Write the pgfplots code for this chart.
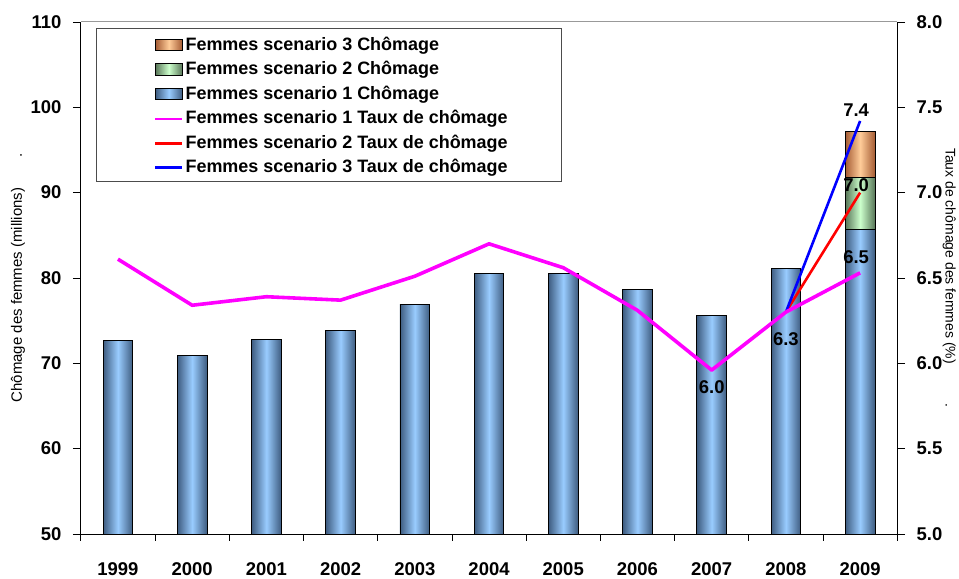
\documentclass[border=0pt]{standalone}
\usepackage{fontspec}
\setmainfont{Liberation Sans}
\usepackage{pgfplots}
\pgfplotsset{compat=1.18}
\definecolor{bluedark}{RGB}{62,92,128}
\definecolor{bluelight}{RGB}{153,204,255}
\definecolor{greendark}{RGB}{88,118,88}
\definecolor{greenlight}{RGB}{204,255,204}
\definecolor{orangedark}{RGB}{165,92,52}
\definecolor{orangelight}{RGB}{255,204,153}
\definecolor{mag}{RGB}{255,0,255}
\definecolor{rd}{RGB}{255,0,0}
\definecolor{bl}{RGB}{0,0,255}
\newcommand{\tickfont}{\bfseries\fontsize{18.5}{20}\selectfont}
\newcommand{\legfont}{\bfseries\fontsize{18}{22}\selectfont}
\begin{document}
\begin{tikzpicture}
\pgfplotsset{
  base/.style={
    width=818pt, height=513pt, scale only axis,
    xmin=-0.5, xmax=10.5,
    /pgf/number format/assume math mode=true,
    tick align=outside, major tick length=8pt,
    ticklabel style={font=\tickfont},
    tick style={black, line width=0.8pt},
    axis line style={line width=0.8pt},
  },
  barb/.style={ybar, bar width=0.4, bar shift=0pt, draw=black, line width=0.8pt,
    left color=bluedark, right color=bluedark, middle color=bluelight, forget plot},
}
\begin{axis}[base,
  ymin=50, ymax=110, ytick={50,60,...,110},
  axis x line*=bottom, axis y line*=left,
  xtick={0,...,10},
  xticklabels={1999,2000,2001,2002,2003,2004,2005,2006,2007,2008,2009},
  major x tick style={draw=none},
  minor xtick={-0.5,0.5,...,10.5},
  minor tick length=7pt,
  xticklabel style={anchor=center, yshift=-27pt},
  yticklabel style={xshift=-8pt},
  ylabel={Chômage des femmes (millions)\hspace{30pt}.},
  ylabel style={at={(axis description cs:-0.077,0.5)}, anchor=center, font=\fontsize{15}{17}\selectfont},
  clip=false,
]
\addplot[ybar, bar width=0.4, bar shift=0pt, draw=black, line width=0.8pt,
  left color=orangedark, right color=orangedark, middle color=orangelight, forget plot]
  coordinates {(10,97.2)};
\addplot[ybar, bar width=0.4, bar shift=0pt, draw=black, line width=0.8pt,
  left color=greendark, right color=greendark, middle color=greenlight, forget plot]
  coordinates {(10,91.8)};
\addplot[barb] coordinates {(0,72.65)};
\addplot[barb] coordinates {(1,70.9)};
\addplot[barb] coordinates {(2,72.8)};
\addplot[barb] coordinates {(3,73.9)};
\addplot[barb] coordinates {(4,76.9)};
\addplot[barb] coordinates {(5,80.5)};
\addplot[barb] coordinates {(6,80.5)};
\addplot[barb] coordinates {(7,78.6)};
\addplot[barb] coordinates {(8,75.6)};
\addplot[barb] coordinates {(9,81.1)};
\addplot[barb] coordinates {(10,85.7)};
\draw[black!40, line width=1pt] (rel axis cs:0,1) -- (rel axis cs:1,1);
\end{axis}
\begin{axis}[base,
  ymin=5, ymax=8, ytick={5,5.5,...,8},
  axis y line*=right, axis x line=none,
  yticklabel style={xshift=8pt, /pgf/number format/.cd, fixed, fixed zerofill, precision=1},
  ylabel={Taux de chômage des femmes (\%)\hspace{40pt}.},
  ylabel style={at={(axis description cs:1.0636,0.5)}, anchor=center, rotate=180, font=\fontsize{14}{16}\selectfont},
  legend style={at={(rel axis cs:0.0895,0.976)}, anchor=north west, draw=none, fill=none,
    inner sep=0pt, row sep=0pt, font=\legfont,
    nodes={inner sep=0pt, text height=16pt, text depth=8.5pt}},
  legend cell align=left,
  clip=false,
]
\addplot[rd, line width=2.6pt, forget plot] coordinates {(9,6.30) (10,7.0)};
\addplot[bl, line width=2.6pt, forget plot] coordinates {(9,6.30) (10,7.42)};
\addplot[mag, line width=3.6pt, line join=round, forget plot] coordinates {
  (0,6.61) (1,6.34) (2,6.39) (3,6.37) (4,6.51) (5,6.70)
  (6,6.56) (7,6.31) (8,5.96) (9,6.30) (10,6.53)};
% value labels
\addplot[draw=none, forget plot, nodes near coords, point meta=explicit symbolic,
  nodes near coords align={center},
  every node near coord/.append style={font=\tickfont, yshift=-17pt}]
  coordinates {(8,5.96) [6.0]};
\addplot[draw=none, forget plot, nodes near coords, point meta=explicit symbolic,
  nodes near coords align={center},
  every node near coord/.append style={font=\tickfont, yshift=-27pt}]
  coordinates {(9,6.30) [6.3]};
\addplot[draw=none, forget plot, nodes near coords, point meta=explicit symbolic,
  nodes near coords align={center},
  every node near coord/.append style={font=\tickfont, yshift=16pt, xshift=-4pt}]
  coordinates {(10,6.53) [6.5]};
\addplot[draw=none, forget plot, nodes near coords, point meta=explicit symbolic,
  nodes near coords align={center},
  every node near coord/.append style={font=\tickfont, yshift=7pt, xshift=-4pt}]
  coordinates {(10,7.0) [7.0]};
\addplot[draw=none, forget plot, nodes near coords, point meta=explicit symbolic,
  nodes near coords align={center},
  every node near coord/.append style={font=\tickfont, yshift=11pt, xshift=-4pt}]
  coordinates {(10,7.42) [7.4]};
% legend box
\draw[black!70, line width=1pt] (rel axis cs:0.0196,0.9864) rectangle (rel axis cs:0.589,0.688);
% legend entries
\addlegendimage{legend image code/.code={\draw[draw=black, line width=0.8pt, left color=orangedark, right color=orangedark, middle color=orangelight] (0pt,-4pt) rectangle (27pt,7.5pt); \path (30pt,0pt);}}
\addlegendentry{Femmes scenario 3 Chômage}
\addlegendimage{legend image code/.code={\draw[draw=black, line width=0.8pt, left color=greendark, right color=greendark, middle color=greenlight] (0pt,-4pt) rectangle (27pt,7.5pt); \path (30pt,0pt);}}
\addlegendentry{Femmes scenario 2 Chômage}
\addlegendimage{legend image code/.code={\draw[draw=black, line width=0.8pt, left color=bluedark, right color=bluedark, middle color=bluelight] (0pt,-4pt) rectangle (27pt,7.5pt); \path (30pt,0pt);}}
\addlegendentry{Femmes scenario 1 Chômage}
\addlegendimage{legend image code/.code={\draw[mag, line width=2.6pt] (0pt,1.2pt) -- (27pt,1.2pt); \path (30pt,0pt);}}
\addlegendentry{Femmes scenario 1 Taux de chômage}
\addlegendimage{legend image code/.code={\draw[rd, line width=2.6pt] (0pt,1.2pt) -- (27pt,1.2pt); \path (30pt,0pt);}}
\addlegendentry{Femmes scenario 2 Taux de chômage}
\addlegendimage{legend image code/.code={\draw[bl, line width=2.6pt] (0pt,1.2pt) -- (27pt,1.2pt); \path (30pt,0pt);}}
\addlegendentry{Femmes scenario 3 Taux de chômage}
\end{axis}
\path (-81pt,-42pt) rectangle (878pt,535pt);
\end{tikzpicture}
\end{document}
